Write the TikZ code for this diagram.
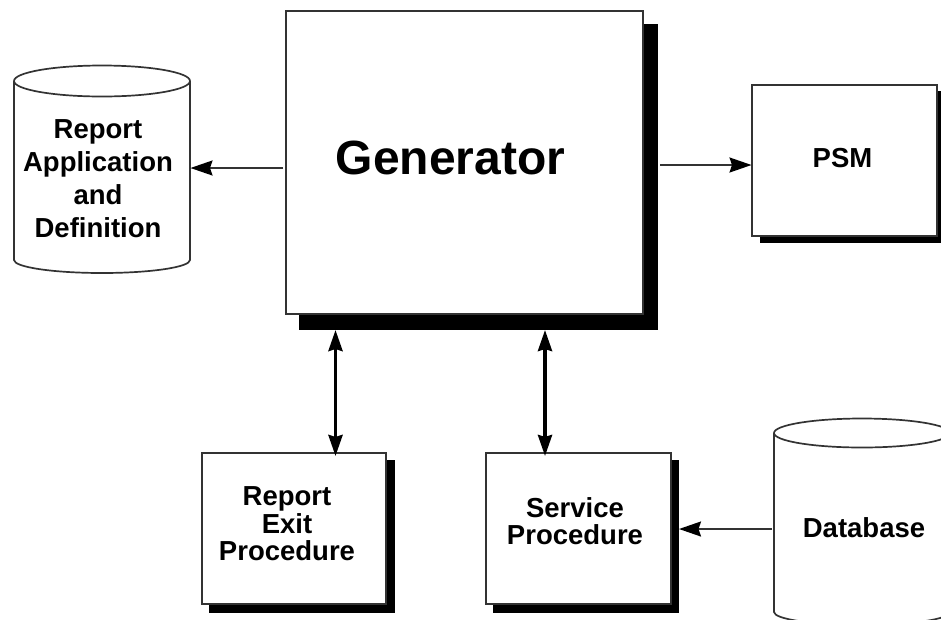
\documentclass[tikz,border=0pt]{standalone}
\usepackage{fontspec}
\setmainfont{Liberation Sans}
\usetikzlibrary{arrows.meta}
\tikzset{
  x=1pt,y=-1pt,
  boxnode/.style={draw=black!80,line width=1.8pt,fill=white,inner sep=0pt,outer sep=0pt,anchor=north west,minimum width=#1},
  lbl/.style={font=\bfseries\fontsize{27.5}{#1}\selectfont,align=center,inner sep=0pt,text=black},
  lbl/.default=33,
  cyl/.style={draw=black!80,line width=1.7pt,fill=white},
  onearrow/.style={draw=black!80,line width=1.8pt,-{Stealth[length=22pt,width=15pt,inset=2.5pt,color=black]}},
  twoarrow/.style={draw=black,line width=3.6pt,{Stealth[length=21pt,width=14pt,inset=2pt]}-{Stealth[length=21pt,width=14pt,inset=2pt]}}
}
\begin{document}
\begin{tikzpicture}
\useasboundingbox (0,0) rectangle (941,619);
\clip (0,0) rectangle (941,619);
\fill[white] (0,0) rectangle (941,619);
% shadows
\fill[black] (299,24) rectangle (658,330);
\fill[black] (760,91) rectangle (946,243);
\fill[black] (209,460) rectangle (395,613);
\fill[black] (493,460) rectangle (679,613);
% boxes
\node[boxnode=357pt,minimum height=303pt] (gen) at (286,11) {};
\node[boxnode=185pt,minimum height=151pt] (psm) at (752,85) {};
\node[boxnode=184pt,minimum height=151pt] (rep) at (202,453) {};
\node[boxnode=185pt,minimum height=151pt] (svc) at (486,453) {};
\node[lbl,font=\bfseries\fontsize{48}{56}\selectfont] (gl) at (450.5,158) {Generator};
\node[lbl] (pl) at (842.5,158) {PSM};
\node[lbl=27.5] (rl) at (287,524) {Report\\Exit\\Procedure};
\node[lbl=27] (sl) at (575,521) {Service\\Procedure};
% cylinders
\draw[cyl] (14,81) arc[start angle=180,end angle=0,x radius=88pt,y radius=15.5pt]
  -- (190,260) arc[start angle=0,end angle=-180,x radius=88pt,y radius=13pt] -- cycle;
\draw[cyl] (14,81) arc[start angle=180,end angle=360,x radius=88pt,y radius=15.5pt];
\draw[cyl] (774,433) arc[start angle=180,end angle=0,x radius=88pt,y radius=14.5pt]
  -- (950,612) arc[start angle=0,end angle=-180,x radius=88pt,y radius=13pt] -- cycle;
\draw[cyl] (774,433) arc[start angle=180,end angle=360,x radius=88pt,y radius=14.5pt];
\coordinate (cylL) at (190.5,168);
\coordinate (cylR) at (774,529);
\coordinate (genL) at (286,168);
\coordinate (genR) at (643,165);
\coordinate (psmL) at (751.5,165);
\coordinate (svcR) at (679,529);
\node[lbl] (al) at (98,179) {Report\\Application\\and\\Definition};
\node[lbl] (dl) at (864,527.5) {Database};
% connectors
\draw[onearrow,shorten <=3pt] (genL) -- (cylL);
\draw[onearrow,shorten <=17pt] (genR) -- (psmL);
\draw[onearrow,shorten <=2pt] (cylR) -- (svcR);
\coordinate (a1) at (335.5,330);
\coordinate (a2) at (545,330);
\coordinate (b1) at (335.5,456);
\coordinate (b2) at (545,456);
\draw[twoarrow] (a1) -- (b1);
\draw[twoarrow] (a2) -- (b2);
\end{tikzpicture}
\end{document}
